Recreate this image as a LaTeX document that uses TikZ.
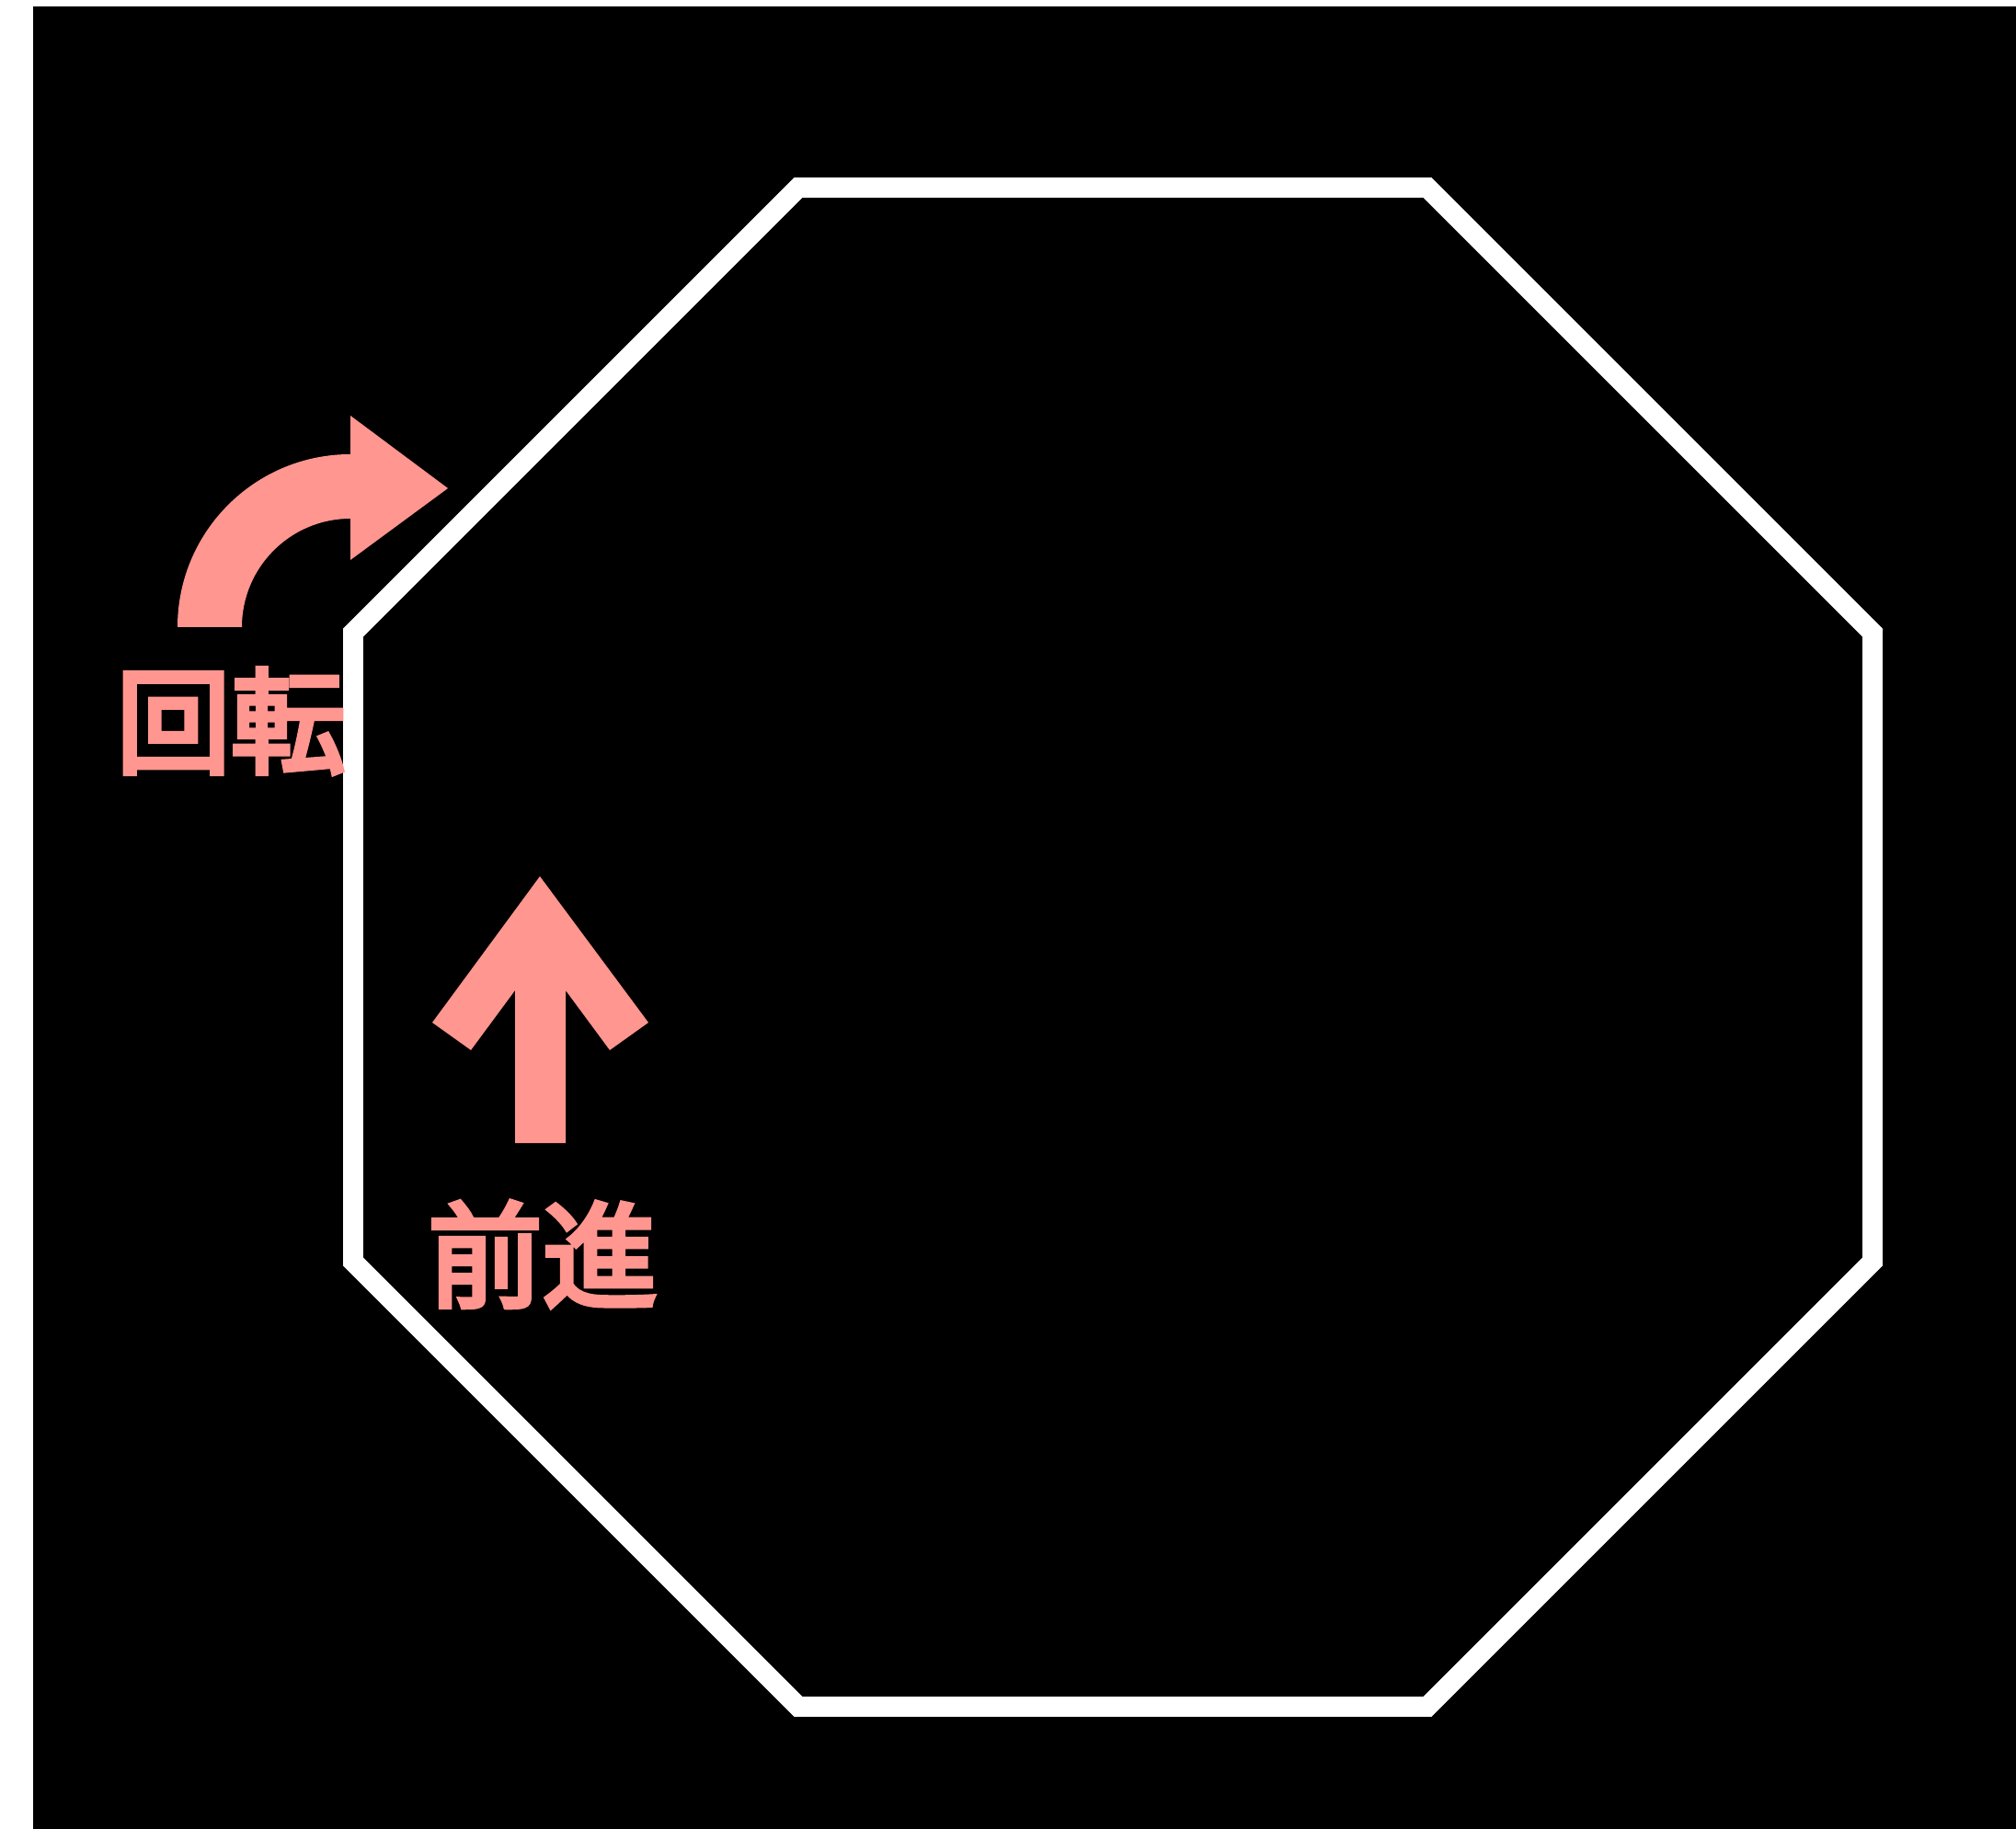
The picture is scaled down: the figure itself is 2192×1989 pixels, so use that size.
\documentclass[tikz,border=0pt]{standalone}
\usepackage{fontspec}
\newfontfamily\jpfont{Noto Sans CJK JP}[FakeBold=4.5]
\definecolor{salmon}{HTML}{FF968F}
\usetikzlibrary{positioning}

\begin{document}
\begin{tikzpicture}[
    x=0.01cm, y=-0.01cm,
    % Shape styles
    wall line/.style={
        draw=white,
        line width=6.2pt,
        line join=miter
    },
    move arrow/.style={
        fill=salmon,
        draw=none
    },
    move label/.style={
        font=\jpfont\fontsize{35.5pt}{35.5pt}\selectfont,
        text=salmon,
        inner sep=0pt
    }
]

% Canvas
\useasboundingbox (0,0) rectangle (2192,1989);
\fill[white] (0,0) rectangle (2192,1989);
\fill[black] (36,7) rectangle (2192,1989);

% Octagon (regular, flat top)
\def\octr{894}
\coordinate (C) at (1210,1030);
\foreach \k in {1,...,8} {
    \coordinate (W-\k) at ([shift={(C)}]{22.5+45*\k}:\octr);
}
\draw[wall line] (W-1) \foreach \k in {2,...,8} {-- (W-\k)} -- cycle;

% Turn arrow
\coordinate (T) at (381,682);
\fill[move arrow] (193,682) arc[start angle=180, end angle=270, radius=188]
    -- (381,452) -- (487,531) -- (381,609) -- (381,564)
    arc[start angle=270, end angle=180, radius=118] -- cycle;
\node[move label] (turn) at (251,784) {回転};

% Forward arrow
\fill[move arrow] (587,953) -- (705,1112) -- (663,1142) -- (615,1077)
    -- (615,1243) -- (560,1243) -- (560,1077) -- (512,1142)
    -- (470,1112) -- cycle;
\node[move label] (forward) at (590,1364) {前進};

\end{tikzpicture}
\end{document}
